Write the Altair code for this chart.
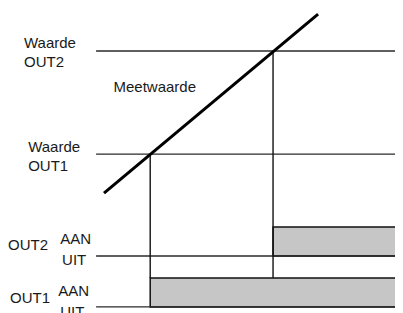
import altair as alt
import pandas as pd

# Horizontal reference lines (x from, x to, level)
h_names = ["Waarde OUT2", "Waarde OUT1", "OUT2 UIT", "OUT1 UIT"]
h_x0 = [22.3, 22.3, 22.3, 22.3]
h_x1 = [100, 100, 100, 100]
h_level = [85.9, 52.1, 18.7, 2.0]

# Measured value (Meetwaarde) line
meet_t = [24.3, 78.5]
meet_v = [39.3, 98.0]

# Switch moments (vertical lines)
v_t = [36.0, 67.1]
v_top = [52.1, 85.9]
v_bottom = [11.5, 11.5]

# Output ON bands
bar_names = ["OUT1", "OUT2"]
bar_t0 = [36.0, 67.1]
bar_t1 = [100, 100]
bar_uit = [2.0, 18.7]
bar_aan = [11.5, 28.2]

# Labels
lab_text = ["Waarde", "OUT2", "Waarde", "OUT1", "Meetwaarde",
            "OUT2", "AAN", "UIT", "OUT1", "AAN", "UIT"]
lab_t = [4.05, 4.05, 5.1, 5.1, 26.7, 0.0, 13.2, 13.7, 0.5, 12.7, 13.2]
lab_v = [86.9, 80.5, 52.9, 46.5, 72.5, 20.7, 22.6, 15.7, 3.3, 5.6, -1.3]

W = 387
xs = alt.Scale(domain=[0, 100 * W / 395], nice=False, zero=False)
ys = alt.Scale(domain=[0, 100], nice=False, zero=False)

hdf = pd.DataFrame({"name": h_names, "x0": h_x0, "x1": h_x1, "y": h_level})
mdf = pd.DataFrame({"t": meet_t, "v": meet_v})
vdf = pd.DataFrame({"t": v_t, "top": v_top, "bottom": v_bottom})
bdf = pd.DataFrame({"name": bar_names, "t0": bar_t0, "t1": bar_t1, "uit": bar_uit, "aan": bar_aan})
ldf = pd.DataFrame({"text": lab_text, "t": lab_t, "v": lab_v})

bars = alt.Chart(bdf).mark_rect(fill="#c6c6c6", stroke="#111111", strokeWidth=1.5).encode(
    x=alt.X("t0:Q", scale=xs, axis=None),
    x2="t1:Q",
    y=alt.Y("uit:Q", scale=ys, axis=None),
    y2="aan:Q",
)

hrules = alt.Chart(hdf).mark_rule(color="#2a2a2a", strokeWidth=1.4).encode(
    x=alt.X("x0:Q", scale=xs, axis=None),
    x2="x1:Q",
    y=alt.Y("y:Q", scale=ys, axis=None),
)

vrules = alt.Chart(vdf).mark_rule(color="#111111", strokeWidth=1.4).encode(
    x=alt.X("t:Q", scale=xs, axis=None),
    y=alt.Y("top:Q", scale=ys, axis=None),
    y2="bottom:Q",
)

meet = alt.Chart(mdf).mark_line(color="#000000", strokeWidth=3, strokeCap="butt").encode(
    x=alt.X("t:Q", scale=xs, axis=None),
    y=alt.Y("v:Q", scale=ys, axis=None),
)

labels = alt.Chart(ldf).mark_text(
    align="left", baseline="alphabetic", font="Liberation Sans", fontSize=15, color="#1a1a1a"
).encode(
    x=alt.X("t:Q", scale=xs, axis=None),
    y=alt.Y("v:Q", scale=ys, axis=None),
    text="text:N",
)

chart = alt.layer(bars, hrules, vrules, meet, labels).properties(
    width=W, height=305, autosize=alt.AutoSizeParams(type="none"), padding=0
).configure_view(stroke=None)

chart.save("out.html", embed_options={"renderer": "svg", "actions": False})
